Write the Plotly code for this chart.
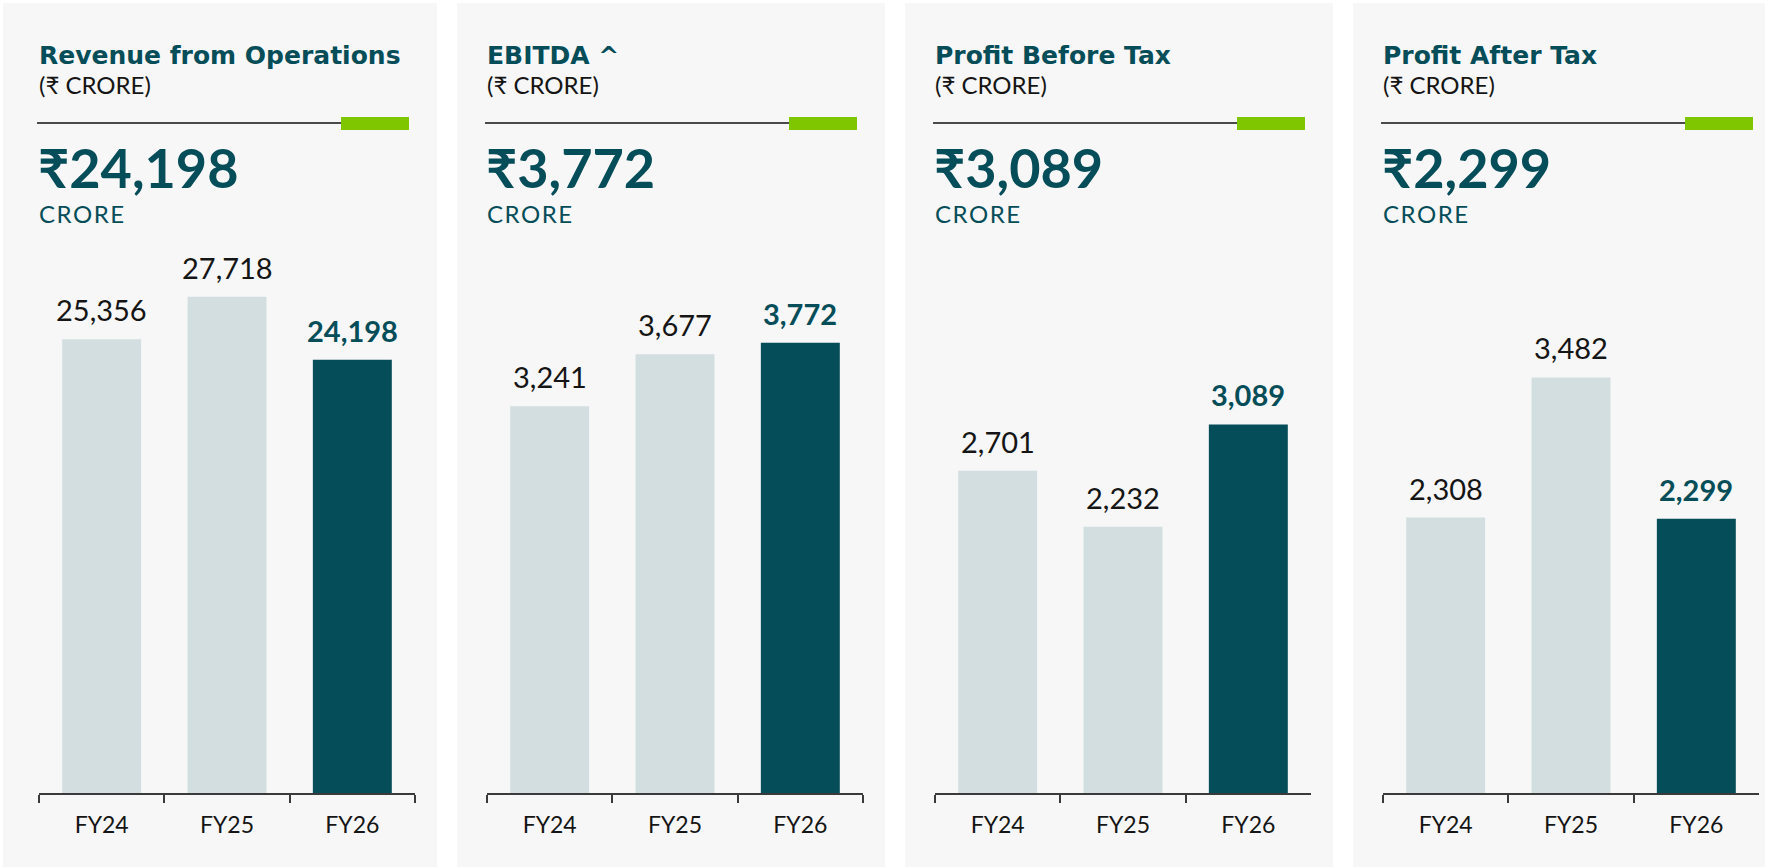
import plotly.graph_objects as go

W, H = 1765, 867

categories = ["FY24", "FY25", "FY26"]
titles = ["Revenue from Operations", "EBITDA ^", "Profit Before Tax", "Profit After Tax"]
subtitle = "(₹ CRORE)"
headline = ["₹24,198", "₹3,772", "₹3,089", "₹2,299"]
unit_label = "CRORE"
revenue = [25356, 27718, 24198]
ebitda = [3241, 3677, 3772]
pbt = [2701, 2232, 3089]
pat = [2308, 3482, 2299]
series = [revenue, ebitda, pbt, pat]
y_max = [30000, 4500, 4500, 4500]

TEAL = "#054d58"
LIGHT = "#d3dee0"
GREEN = "#7fc500"
PANEL = "#f7f7f7"
TXT = "#151515"
NUMFONT = "Lato, 'Noto Sans', sans-serif"
TITLEFONT = "'DejaVu Sans', sans-serif"

fig = go.Figure()

def px(x):
    return x / W

def py(y):
    return 1 - y / H

panel_x = [(3, 437), (457, 885), (905, 1333), (1353, 1781)]
shapes = []
annotations = []
for i in range(4):
    off = 448 * i
    ax0, ax1 = 39 + off, 415 + off
    xa = "x" if i == 0 else f"x{i+1}"
    ya = "y" if i == 0 else f"y{i+1}"
    vals = series[i]
    fig.add_trace(go.Bar(
        x=categories, y=vals,
        marker=dict(color=[LIGHT, LIGHT, TEAL], line=dict(width=0)),
        xaxis=xa, yaxis=ya, showlegend=False, hoverinfo="skip",
    ))
    axkey = "xaxis" if i == 0 else f"xaxis{i+1}"
    aykey = "yaxis" if i == 0 else f"yaxis{i+1}"
    fig.update_layout(**{
        axkey: dict(domain=[px(ax0), px(ax1)], anchor=ya, type="category",
                    showline=True, linecolor="#3a3a3a", linewidth=1.5,
                    ticks="outside", tickson="boundaries", ticklen=8, tickwidth=1.5,
                    tickcolor="#3a3a3a", showgrid=False, zeroline=False,
                    ticklabelstandoff=11,
                    tickfont=dict(family=NUMFONT, size=23, color=TXT),
                    fixedrange=True),
        aykey: dict(domain=[py(793), py(256)], anchor=xa, range=[0, y_max[i]],
                    visible=False, showgrid=False, zeroline=False, fixedrange=True),
    })
    # panel background
    p0, p1 = panel_x[i]
    shapes.append(dict(type="rect", xref="paper", yref="paper", x0=px(p0), x1=px(p1),
                       y0=py(867), y1=py(3), fillcolor=PANEL, line=dict(width=0), layer="below"))
    # divider line and green accent
    shapes.append(dict(type="line", xref="paper", yref="paper", x0=px(37 + off), x1=px(341 + off),
                       y0=py(123), y1=py(123), line=dict(color="#4a4a4a", width=2)))
    shapes.append(dict(type="rect", xref="paper", yref="paper", x0=px(341 + off), x1=px(409 + off),
                       y0=py(130), y1=py(117), fillcolor=GREEN, line=dict(width=0)))
    # header texts
    annotations.append(dict(xref="paper", yref="paper", x=px(37 + off), y=py(56),
                            xanchor="left", yanchor="middle", showarrow=False,
                            text=f"<b>{titles[i]}</b>",
                            font=dict(family=TITLEFONT, size=25, color=TEAL)))
    annotations.append(dict(xref="paper", yref="paper", x=px(37 + off), y=py(85),
                            xanchor="left", yanchor="middle", showarrow=False,
                            text=subtitle, font=dict(family=NUMFONT, size=24, color=TXT)))
    annotations.append(dict(xref="paper", yref="paper", x=px(36 + off), y=py(168),
                            xanchor="left", yanchor="middle", showarrow=False,
                            text=f"<b>{headline[i]}</b>",
                            font=dict(family=NUMFONT, size=54, color=TEAL)))
    annotations.append(dict(xref="paper", yref="paper", x=px(37 + off), y=py(213),
                            xanchor="left", yanchor="middle", showarrow=False,
                            text="\u200a".join(unit_label),
                            font=dict(family=NUMFONT, size=24, color=TEAL)))
    # value labels
    for j, (c, v) in enumerate(zip(categories, vals)):
        last = j == len(vals) - 1
        annotations.append(dict(xref=xa, yref=ya, x=c, y=v, xanchor="center", yanchor="bottom",
                                yshift=10, showarrow=False,
                                text=f"<b>{v:,}</b>" if last else f"{v:,}",
                                font=dict(family=NUMFONT, size=29, color=TEAL if last else TXT)))

fig.update_layout(
    width=W, height=H, margin=dict(l=0, r=0, t=0, b=0),
    paper_bgcolor="white", plot_bgcolor="rgba(0,0,0,0)",
    bargap=0.37, shapes=shapes, annotations=annotations,
)

fig.write_html("out.html", config={"displayModeBar": False},
               post_script="document.body.style.margin='0';document.body.style.overflow='hidden';")
